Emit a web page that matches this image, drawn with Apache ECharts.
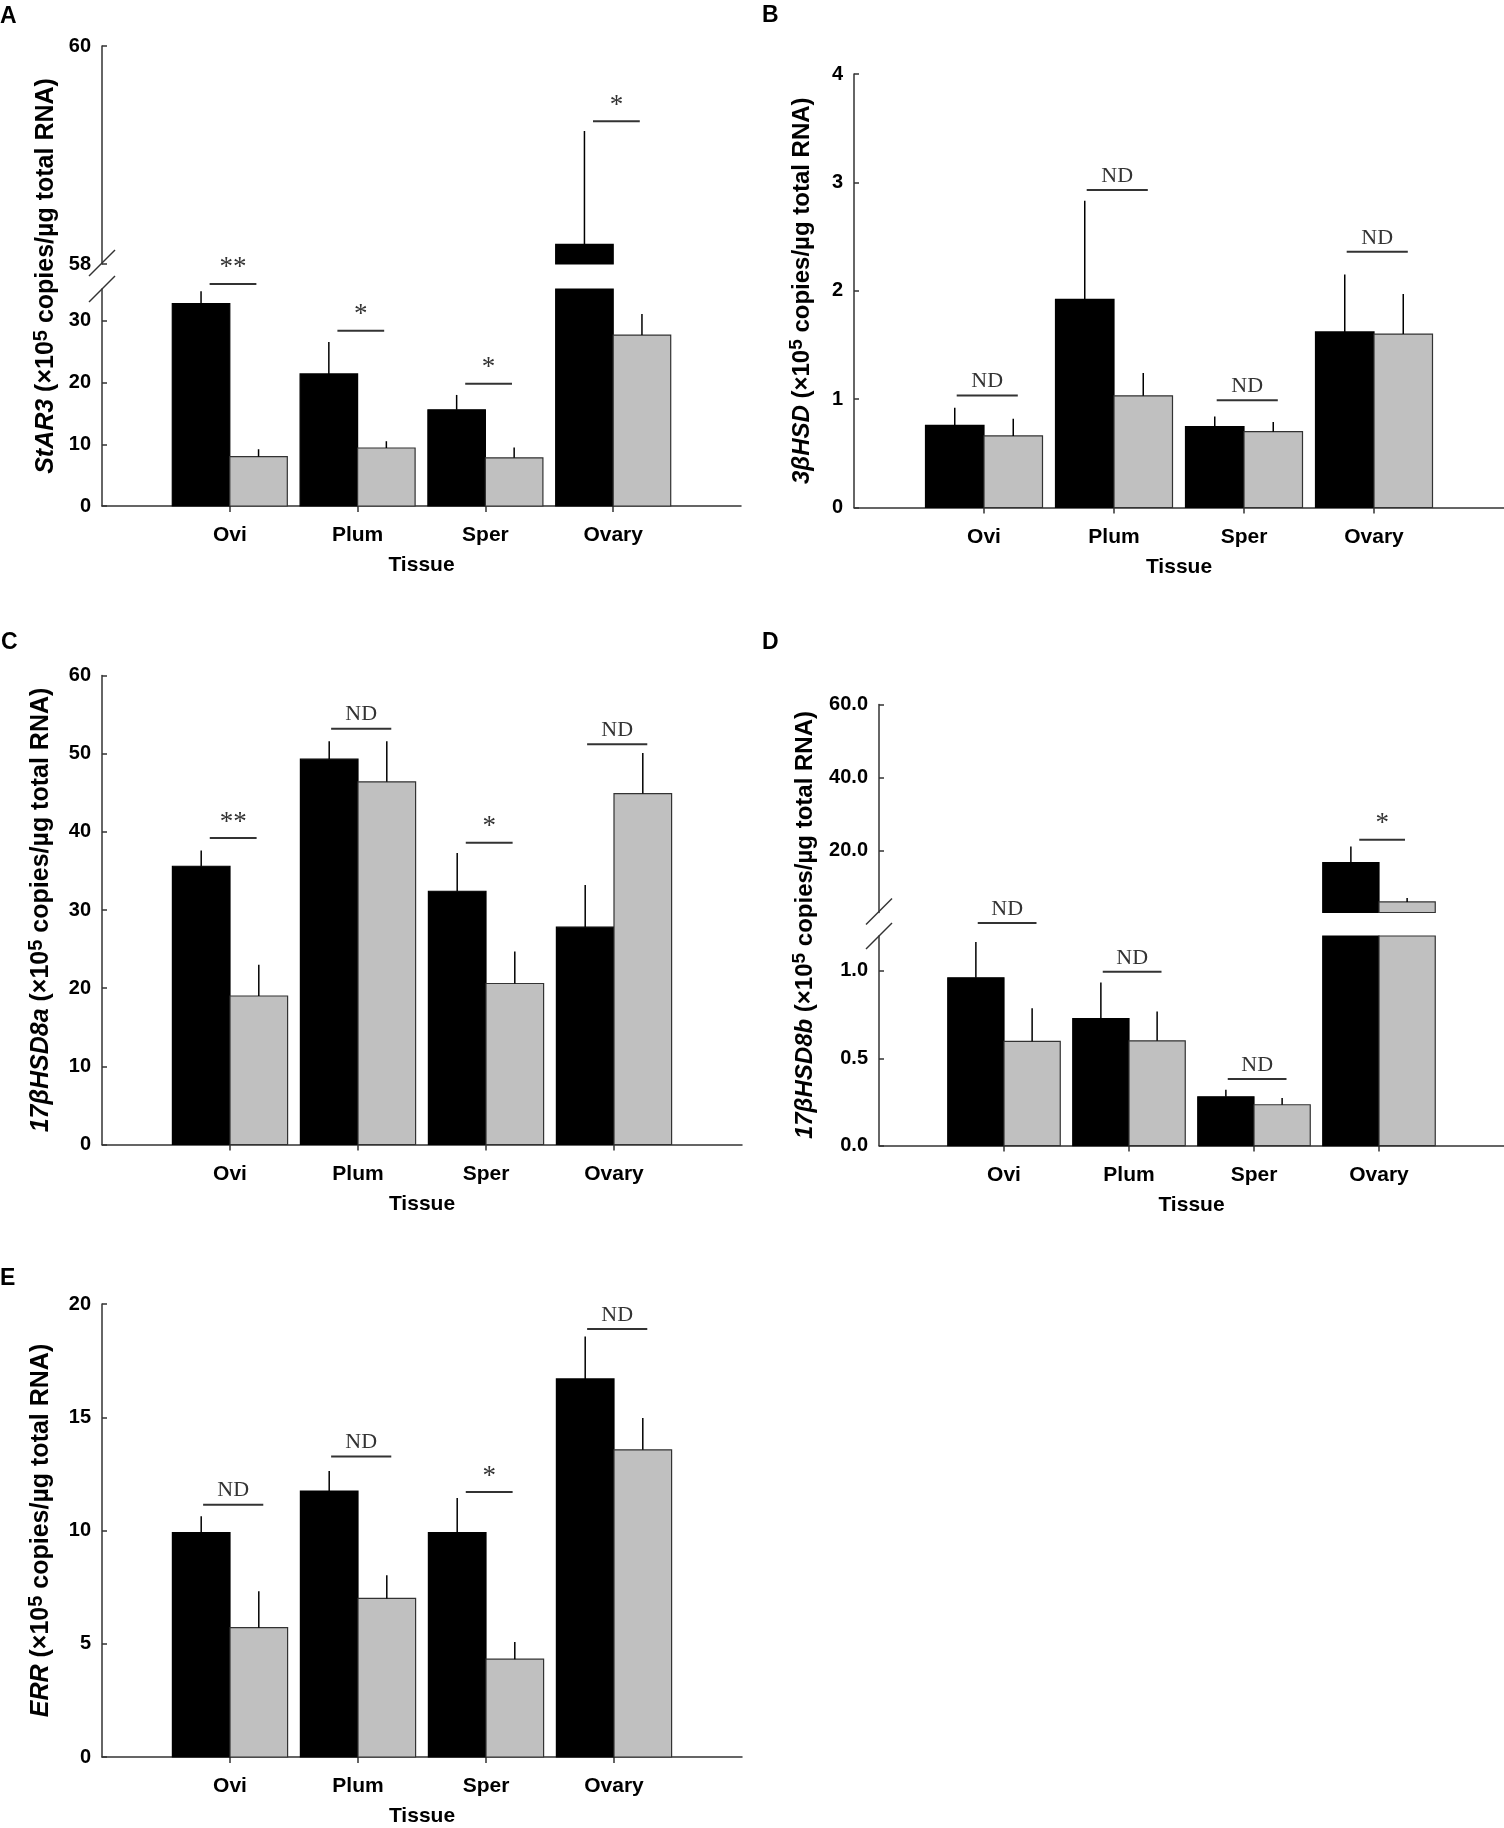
<!DOCTYPE html>
<html>
<head>
<meta charset="utf-8">
<script src="https://cdn.jsdelivr.net/npm/echarts@6/dist/echarts.min.js"></script>
<style>
  html, body { margin: 0; padding: 0; background: #fff; }
  #main { width: 1504px; height: 1828px; }
</style>
</head>
<body>
<div id="main"></div>
<script>
const tissues = ['Ovi', 'Plum', 'Sper', 'Ovary'];

// A - StAR3 (broken axis 35 / 58)
const starBlack = [32.8, 21.4, 15.6, 58.18];
const starBlackSe = [2.0, 5.2, 2.4, 1.04];
const starGrey = [8.0, 9.4, 7.8, 27.7];
const starGreySe = [1.2, 1.1, 1.7, 3.4];
const starSig = ['**', '*', '*', '*'];
const starSigY = [36.0, 28.4, 19.8, 59.31];

// B - 3bHSD
const hsdBlack = [0.757, 1.92, 0.746, 1.62];
const hsdBlackSe = [0.163, 0.91, 0.094, 0.53];
const hsdGrey = [0.66, 1.03, 0.70, 1.60];
const hsdGreySe = [0.16, 0.21, 0.09, 0.37];
const hsdSig = ['ND', 'ND', 'ND', 'ND'];
const hsdSigY = [1.034, 2.93, 0.99, 2.36];

// C - 17bHSD8a
const h8aBlack = [35.6, 49.3, 32.4, 27.8];
const h8aBlackSe = [2.0, 2.3, 4.9, 5.4];
const h8aGrey = [19.0, 46.4, 20.6, 44.9];
const h8aGreySe = [4.0, 5.2, 4.1, 5.2];
const h8aSig = ['**', 'ND', '*', 'ND'];
const h8aSigY = [39.2, 53.2, 38.6, 51.2];

// D - 17bHSD8b (broken axis 1.2 / 3)
const h8bBlack = [0.961, 0.727, 0.279, 16.7];
const h8bBlackSe = [0.204, 0.207, 0.041, 4.4];
const h8bGrey = [0.597, 0.60, 0.234, 5.9];
const h8bGreySe = [0.189, 0.168, 0.038, 1.1];
const h8bSig = ['ND', 'ND', 'ND', '*'];
const h8bSigY = [1.274, 0.995, 0.381, 22.96];

// E - ERR
const errBlack = [9.91, 11.74, 9.91, 16.69];
const errBlackSe = [0.72, 0.89, 1.53, 1.87];
const errGrey = [5.71, 7.0, 4.32, 13.56];
const errGreySe = [1.61, 1.02, 0.76, 1.41];
const errSig = ['ND', 'ND', '*', 'ND'];
const errSigY = [11.14, 13.27, 11.7, 18.9];

const FONT = '"Liberation Sans", Arial, Helvetica, sans-serif';
const SERIF = '"Liberation Serif", "Times New Roman", serif';
const BAR = 0.45;

var myChart = echarts.init(document.getElementById('main'));

// bars + upward error line, clipped to the grid (needed for the broken axes)
function barSeries(ax, vals, ses, side, fill) {
  return {
    type: 'custom', xAxisIndex: ax, yAxisIndex: ax, silent: true, clip: false, z: 2,
    data: vals.map((v, i) => [i + 1, v, ses[i]]),
    renderItem: function (params, api) {
      const cat = api.value(0), v = api.value(1), se = api.value(2);
      const cs = params.coordSys;
      const w = api.size([1, 0])[0] * BAR;
      const top = api.coord([cat, v]);
      const base = api.coord([cat, 0]);
      const err = api.coord([cat, v + se]);
      const x0 = side < 0 ? top[0] - w : top[0];
      const kids = [];
      const r = echarts.graphic.clipRectByRect(
        { x: x0, y: top[1], width: w, height: base[1] - top[1] },
        { x: cs.x, y: cs.y, width: cs.width, height: cs.height });
      if (r && r.height > 0) {
        kids.push({ type: 'rect', shape: r,
          style: { fill: fill, stroke: fill === '#000' ? '#000' : '#333', lineWidth: 1.2 } });
      }
      const lo = cs.y, hi = cs.y + cs.height;
      const y1 = Math.min(Math.max(top[1], lo), hi);
      const y2 = Math.min(Math.max(err[1], lo), hi);
      if (y1 - y2 > 0.5) {
        kids.push({ type: 'line', shape: { x1: x0 + w / 2, y1: y1, x2: x0 + w / 2, y2: y2 },
          style: { stroke: '#000', lineWidth: 1.5 } });
      }
      return { type: 'group', children: kids };
    }
  };
}

function sigSeries(ax, items) {
  return {
    type: 'custom', xAxisIndex: ax, yAxisIndex: ax, silent: true, clip: false, z: 5,
    data: items.map(d => [d.cat, d.y]),
    renderItem: function (params, api) {
      const d = items[params.dataIndex];
      const nd = d.label === 'ND';
      const half = (nd ? 0.235 : 0.183) * api.size([1, 0])[0];
      const p = api.coord([d.cat + 0.025, d.y]);
      return { type: 'group', children: [
        { type: 'line', shape: { x1: p[0] - half, y1: p[1], x2: p[0] + half, y2: p[1] },
          style: { stroke: '#333', lineWidth: 2 } },
        { type: 'text', x: p[0], y: p[1] - (nd ? 3 : 2),
          style: { text: d.label, fill: '#333', font: (nd ? '22px ' : '27px ') + SERIF,
            align: 'center', verticalAlign: 'bottom' } }
      ] };
    }
  };
}

function breakSeries(ax, atBottom) {
  return {
    type: 'custom', xAxisIndex: ax, yAxisIndex: ax, silent: true, clip: false, z: 6,
    data: [[1, 0]],
    renderItem: function (params) {
      const cs = params.coordSys;
      const y = atBottom ? cs.y + cs.height - 1 : cs.y;
      return { type: 'line', shape: { x1: cs.x - 13, y1: y + 13, x2: cs.x + 13, y2: y - 13 },
        style: { stroke: '#333', lineWidth: 1.5 } };
    }
  };
}

function sigItems(labels, ys, keep) {
  const out = [];
  labels.forEach((l, i) => { if (keep(ys[i])) out.push({ cat: i + 1, y: ys[i], label: l }); });
  return out;
}

function xAx(gi, show) {
  return {
    gridIndex: gi, type: 'value', min: 0, max: 5, show: show,
    axisLine: { lineStyle: { color: '#333', width: 1.5 } },
    axisTick: { customValues: [1, 2, 3, 4], inside: false, length: 6, lineStyle: { color: '#333', width: 1.5 } },
    axisLabel: { customValues: [1, 2, 3, 4], formatter: v => tissues[Math.round(v) - 1] || '',
      fontSize: 21, fontWeight: 'bold', color: '#000', fontFamily: FONT, margin: 19 },
    splitLine: { show: false },
    name: show ? 'Tissue' : '', nameLocation: 'middle', nameGap: 49,
    nameTextStyle: { fontSize: 21, fontWeight: 'bold', color: '#000', fontFamily: FONT }
  };
}

function yAx(gi, min, max, ticks, fmt) {
  return {
    gridIndex: gi, type: 'value', min: min, max: max,
    axisLine: { show: true, lineStyle: { color: '#333', width: 1.5 } },
    axisTick: { show: true, customValues: ticks, inside: true, length: 5, lineStyle: { color: '#333', width: 1.5 } },
    axisLabel: { customValues: ticks, formatter: fmt || (v => String(v)),
      fontSize: 20, fontWeight: 'bold', color: '#000', fontFamily: FONT, margin: 11 },
    splitLine: { show: false }
  };
}

function nameAx(gi, gene, gap, size) {
  const s = size || 25;
  return {
    gridIndex: gi, type: 'value', min: 0, max: 1,
    axisLine: { show: false }, axisTick: { show: false }, axisLabel: { show: false },
    splitLine: { show: false },
    name: '{i|' + gene + '}{n| (×10}{s|5}{n| copies/µg total RNA)}',
    nameLocation: 'middle', nameRotate: 90, nameGap: gap,
    nameTextStyle: {
      fontFamily: FONT, fontWeight: 'bold', fontSize: s, color: '#000',
      rich: {
        i: { fontFamily: FONT, fontWeight: 'bold', fontStyle: 'italic', fontSize: s, lineHeight: 30, color: '#000' },
        n: { fontFamily: FONT, fontWeight: 'bold', fontSize: s, lineHeight: 30, color: '#000' },
        s: { fontFamily: FONT, fontWeight: 'bold', fontSize: Math.round(s * 0.8), lineHeight: 18, verticalAlign: 'top', color: '#000' }
      }
    }
  };
}

function hidden(ax) {
  ax.axisLine = { show: false }; ax.axisTick = { show: false };
  ax.axisLabel = { show: false }; ax.name = '';
  return ax;
}

const grids = [
  { left: 102, top: 46, width: 639, height: 218 },     // 0 A upper
  { left: 102, top: 289, width: 639, height: 217 },    // 1 A lower
  { left: 102, top: 46, width: 639, height: 460 },     // 2 A name
  { left: 854, top: 74, width: 650, height: 433.5 },   // 3 B
  { left: 102, top: 675.5, width: 640, height: 469 },  // 4 C
  { left: 879, top: 704.5, width: 625, height: 208 },  // 5 D upper
  { left: 879, top: 936, width: 625, height: 209.6 },  // 6 D lower
  { left: 879, top: 704.5, width: 625, height: 441.1 },// 7 D name
  { left: 102, top: 1304, width: 640, height: 459.6 }  // 8 E
];

const one = v => v.toFixed(1);
const yAxes = [
  yAx(0, 58, 60, [58, 60]),
  yAx(1, 0, 35.17, [0, 10, 20, 30]),
  nameAx(2, 'StAR3', 41),
  yAx(3, 0, 4, [0, 1, 2, 3, 4]),
  yAx(4, 0, 60, [0, 10, 20, 30, 40, 50, 60]),
  yAx(5, 3, 60, [20, 40, 60], one),
  yAx(6, 0, 1.2, [0, 0.5, 1.0], one),
  nameAx(7, '17βHSD8b', 59, 24),
  yAx(8, 0, 20, [0, 5, 10, 15, 20])
];
// names on the single-segment panels
function withName(ax, gene, gap, size) {
  const n = nameAx(ax.gridIndex, gene, gap, size);
  ax.name = n.name; ax.nameLocation = n.nameLocation; ax.nameRotate = n.nameRotate;
  ax.nameGap = n.nameGap; ax.nameTextStyle = n.nameTextStyle;
  return ax;
}
withName(yAxes[3], '3βHSD', 37, 24);
withName(yAxes[4], '17βHSD8a', 46);
withName(yAxes[8], 'ERR', 46);

const xAxes = [
  hidden(xAx(0, true)), xAx(1, true), hidden(xAx(2, true)),
  xAx(3, true), xAx(4, true),
  hidden(xAx(5, true)), xAx(6, true), hidden(xAx(7, true)),
  xAx(8, true)
];

const titleStyle = { fontSize: 23, fontWeight: 'bold', color: '#000', fontFamily: FONT };
const titles = [
  { text: 'A', left: 0, top: 5 }, { text: 'B', left: 762, top: 4 },
  { text: 'C', left: 1, top: 631 }, { text: 'D', left: 762, top: 631 },
  { text: 'E', left: 0, top: 1267 }
].map(t => Object.assign(t, { padding: 0, textStyle: titleStyle }));

const series = [
  // A
  barSeries(0, starBlack, starBlackSe, -1, '#000'), barSeries(0, starGrey, starGreySe, 1, '#c0c0c0'),
  barSeries(1, starBlack, starBlackSe, -1, '#000'), barSeries(1, starGrey, starGreySe, 1, '#c0c0c0'),
  sigSeries(0, sigItems(starSig, starSigY, y => y >= 58)),
  sigSeries(1, sigItems(starSig, starSigY, y => y < 58)),
  breakSeries(0, true), breakSeries(1, false),
  // B
  barSeries(3, hsdBlack, hsdBlackSe, -1, '#000'), barSeries(3, hsdGrey, hsdGreySe, 1, '#c0c0c0'),
  sigSeries(3, sigItems(hsdSig, hsdSigY, () => true)),
  // C
  barSeries(4, h8aBlack, h8aBlackSe, -1, '#000'), barSeries(4, h8aGrey, h8aGreySe, 1, '#c0c0c0'),
  sigSeries(4, sigItems(h8aSig, h8aSigY, () => true)),
  // D
  barSeries(5, h8bBlack, h8bBlackSe, -1, '#000'), barSeries(5, h8bGrey, h8bGreySe, 1, '#c0c0c0'),
  barSeries(6, h8bBlack, h8bBlackSe, -1, '#000'), barSeries(6, h8bGrey, h8bGreySe, 1, '#c0c0c0'),
  sigSeries(5, sigItems(h8bSig, h8bSigY, y => y >= 3)),
  sigSeries(6, sigItems(h8bSig, h8bSigY, y => y < 3)),
  breakSeries(5, true), breakSeries(6, false),
  // E
  barSeries(8, errBlack, errBlackSe, -1, '#000'), barSeries(8, errGrey, errGreySe, 1, '#c0c0c0'),
  sigSeries(8, sigItems(errSig, errSigY, () => true))
];

myChart.setOption({
  backgroundColor: '#fff',
  animation: false,
  title: titles,
  grid: grids,
  xAxis: xAxes,
  yAxis: yAxes,
  series: series
});
</script>
</body>
</html>
